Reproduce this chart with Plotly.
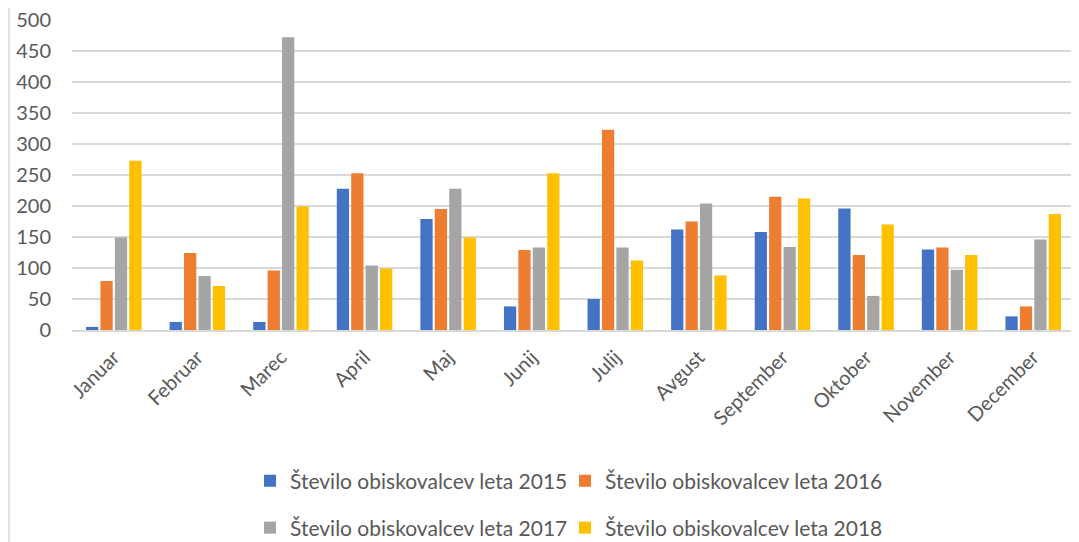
import plotly.graph_objects as go

months = ["Januar", "Februar", "Marec", "April", "Maj", "Junij", "Julij",
          "Avgust", "September", "Oktober", "November", "December"]
y2015 = [5, 13, 13, 228, 179, 38, 50, 162, 158, 196, 130, 22]
y2016 = [79, 124, 96, 253, 195, 129, 323, 175, 215, 121, 133, 38]
y2017 = [149, 87, 472, 104, 228, 133, 133, 204, 134, 55, 97, 146]
y2018 = [273, 71, 199, 99, 149, 253, 112, 88, 212, 170, 121, 187]

names = ["Število obiskovalcev leta 2015", "Število obiskovalcev leta 2016",
         "Število obiskovalcev leta 2017", "Število obiskovalcev leta 2018"]
colors = ["#4472C4", "#ED7D31", "#A5A5A5", "#FFC000"]
series = [y2015, y2016, y2017, y2018]
legends = ["legend", "legend2", "legend3", "legend4"]

FONT = "Lato"
TXT = "#595959"
W, H = 1071, 534

fig = go.Figure()
for n, c, s, lg in zip(names, colors, series, legends):
    fig.add_trace(go.Bar(x=months, y=s, name=n, marker_color=c,
                         marker_line_width=0, legend=lg, showlegend=True))

leg_common = dict(orientation="h", xanchor="left", yanchor="middle",
                  xref="container", yref="container",
                  font=dict(family=FONT, size=21, color=TXT),
                  itemwidth=30, bgcolor="rgba(0,0,0,0)", visible=True)

x_left, x_right = 242 / W, 557 / W
y_top, y_bot = 1 - 473 / H, 1 - 520 / H

fig.update_layout(
    width=W, height=H, showlegend=True,
    margin=dict(l=64, r=4, t=12, b=212, autoexpand=False),
    paper_bgcolor="white", plot_bgcolor="white",
    barmode="group", bargap=0.31, bargroupgap=0.15,
    font=dict(family=FONT, color=TXT),
    legend=dict(x=x_left, y=y_top, **leg_common),
    legend2=dict(x=x_right, y=y_top, **leg_common),
    legend3=dict(x=x_left, y=y_bot, **leg_common),
    legend4=dict(x=x_right, y=y_bot, **leg_common),
    xaxis=dict(tickangle=-45, tickfont=dict(family=FONT, size=20, color=TXT),
               showgrid=False, showline=True, linecolor="#D9D9D9", linewidth=1.5,
               ticks="", ticklabelstandoff=6, automargin=False),
    yaxis=dict(range=[0, 500], dtick=50, tickfont=dict(family=FONT, size=20, color=TXT),
               showgrid=True, gridcolor="#D9D9D9", gridwidth=1.5, zeroline=False,
               showline=False, ticks="", ticklabelstandoff=20, automargin=False,
               ticklabeloverflow="allow"),
    shapes=[dict(type="line", xref="paper", yref="paper", x0=-0.0628, x1=-0.0628,
                 y0=-0.70, y1=1.05, line=dict(color="#D9D9D9", width=1.5))],
)

fig.write_html("out.html")
